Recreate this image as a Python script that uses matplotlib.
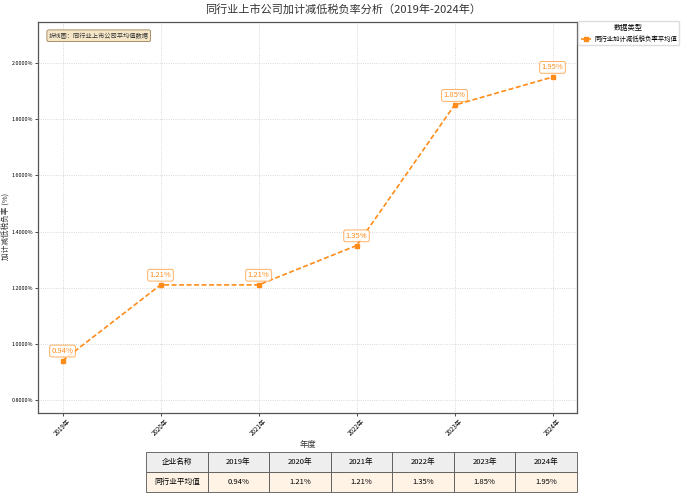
import matplotlib
matplotlib.use("Agg")
import matplotlib.pyplot as plt
from matplotlib.ticker import FuncFormatter

plt.rcParams['font.family'] = ['Noto Sans CJK SC', 'DejaVu Sans']
plt.rcParams['axes.unicode_minus'] = False

years = ["2019年", "2020年", "2021年", "2022年", "2023年", "2024年"]
values = [0.94, 1.21, 1.21, 1.35, 1.85, 1.95]
series_name = "同行业加计减低税负率平均值"
row_name = "同行业平均值"
yticks = [0.8, 1.0, 1.2, 1.4, 1.6, 1.8, 2.0]

color = '#ff8c1a'

fig = plt.figure(figsize=(6.87, 4.96), dpi=100)
ax = fig.add_axes([38/687, 1-413/496, (577-38)/687, (413-22)/496])

x = list(range(len(years)))
ax.plot(x, values, linestyle='--', color=color, linewidth=1.2, marker='s',
        markersize=3.5, label=series_name, dashes=(3, 1.5))

for xi, v in zip(x, values):
    ax.annotate(f"{v:.2f}%", (xi, v), xytext=(0, 7), textcoords='offset points',
                ha='center', va='center', fontsize=5.5, color=color,
                bbox=dict(boxstyle='round,pad=0.25', fc='white', ec=color, lw=0.6, alpha=0.8))

ax.set_xlim(-0.25, 5.25)
ax.set_ylim(0.754, 2.146)
ax.set_xticks(x)
ax.set_xticklabels(years, rotation=45, fontsize=4.5)
ax.set_yticks(yticks)
ax.yaxis.set_major_formatter(FuncFormatter(lambda v, p: f"{v:.4f}%"))
ax.tick_params(axis='y', labelsize=3.9, length=2, width=0.5, pad=1.5)
ax.tick_params(axis='x', length=2, width=0.5, pad=1.5)
ax.grid(True, linestyle=':', color='#cccccc', linewidth=0.6)
for s in ax.spines.values():
    s.set_color('#555555')
    s.set_linewidth(0.9)

ax.set_xlabel("年度", fontsize=6, color='#333333')
ax.xaxis.set_label_coords(0.5, -(440-413)/391)
ax.set_ylabel("加计减低税负率 (%)", fontsize=5.5, color='#333333')
ax.yaxis.set_label_coords(-(38-11)/539, 0.478)
fig.text(0.5, 1-9/496, "同行业上市公司加计减低税负率分析（2019年-2024年）",
         ha='center', va='center', fontsize=8, color='#333333')

ax.text(0.02, 0.975, "折线图：同行业上市公司平均值数据", transform=ax.transAxes,
        ha='left', va='top', fontsize=4.5, color='#333333',
        bbox=dict(boxstyle='round,pad=0.3', fc='#f5e6c8', ec='#8b6b3d', lw=0.5))

leg = fig.legend(loc='upper left', bbox_to_anchor=(578/687, 1-21/496), fontsize=4.6,
                 title="数据类型", title_fontsize=5.2, frameon=True, framealpha=1,
                 edgecolor='#dddddd', borderpad=0.4, handlelength=1.6, handletextpad=0.5,
                 borderaxespad=0)

tax = fig.add_axes([146/687, 1-492/496, (577-146)/687, 40/496])
tax.axis('off')
cells = [["企业名称"] + years, [row_name] + [f"{v:.2f}%" for v in values]]
tbl = tax.table(cellText=cells, loc='center', cellLoc='center', bbox=[0, 0, 1, 1])
tbl.auto_set_font_size(False)
tbl.set_fontsize(5.5)
for (r, c), cell in tbl.get_celld().items():
    cell.set_edgecolor('#555555')
    cell.set_linewidth(0.6)
    if r == 0:
        cell.set_facecolor('#eeeeee')
    else:
        cell.set_facecolor('#fff3e6')

fig.savefig("out.png", dpi=100)
